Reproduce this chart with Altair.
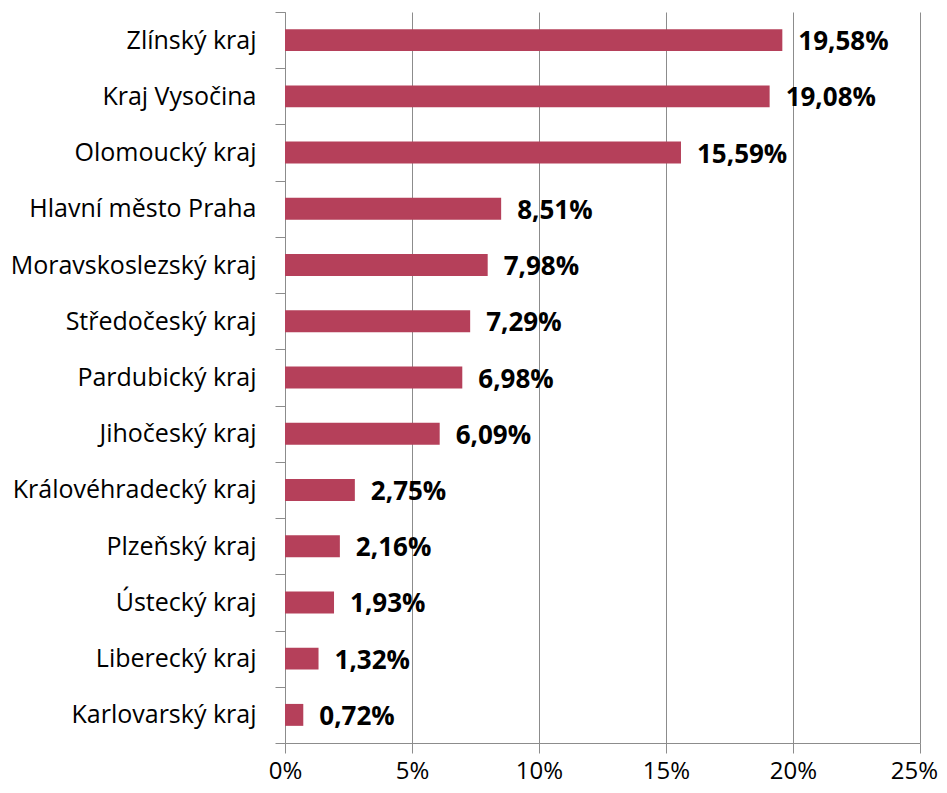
import altair as alt
import pandas as pd

regions = ["Zlínský kraj", "Kraj Vysočina", "Olomoucký kraj", "Hlavní město Praha",
           "Moravskoslezský kraj", "Středočeský kraj", "Pardubický kraj", "Jihočeský kraj",
           "Královéhradecký kraj", "Plzeňský kraj", "Ústecký kraj", "Liberecký kraj",
           "Karlovarský kraj"]
values = [19.58, 19.08, 15.59, 8.51, 7.98, 7.29, 6.98, 6.09, 2.75, 2.16, 1.93, 1.32, 0.72]
x_ticks = [0, 5, 10, 15, 20, 25]

df = pd.DataFrame({
    "region": regions,
    "value": values,
    "label": [f"{v:.2f}".replace(".", ",") + "%" for v in values],
})

W, H = 635, 731
FONT = "Open Sans"
GRAY = "#8c8c8c"

y_axis = alt.Axis(tickBand="extent", ticks=True, domain=True, tickSize=10,
                  tickWidth=1, labelPadding=19, labelFontSize=25, labelFont=FONT,
                  labelColor="#000000", domainColor=GRAY, domainWidth=1,
                  tickColor=GRAY, grid=False, labelLimit=300)
y = alt.Y("region:N", sort=regions, title=None,
          scale=alt.Scale(paddingInner=0, paddingOuter=0),
          axis=y_axis)
x = alt.X("value:Q", title=None,
          scale=alt.Scale(domain=[0, 25], nice=False),
          axis=alt.Axis(values=x_ticks, labelExpr="datum.value + '%'", tickSize=10,
                        labelBaseline="alphabetic", labelPadding=25,
                        labelFontSize=24, labelFont=FONT,
                        labelOffset=alt.expr("datum.value == 25 ? -6 : 0"),
                        labelColor="#000000", domainColor=GRAY,
                        tickColor=GRAY, gridColor=GRAY, grid=True,
                        labelFlush=False))

base = alt.Chart(df)
bars = base.mark_bar(color="#B5405A", height={"band": 0.39}).encode(x=x, y=y)
text = base.mark_text(align="left", baseline="middle", dx=16, dy=2, fontSize=26,
                      fontWeight="bold", font=FONT, color="#000000").encode(
    x=x, y=y, text="label:N")

chart = (bars + text).properties(
    width=W, height=H,
    autosize=alt.AutoSizeParams(type="none"),
    padding={"left": 277, "top": 4, "right": 19, "bottom": 42},
).configure_view(stroke=None)

chart.save("out.html", embed_options={"renderer": "svg", "actions": False})
